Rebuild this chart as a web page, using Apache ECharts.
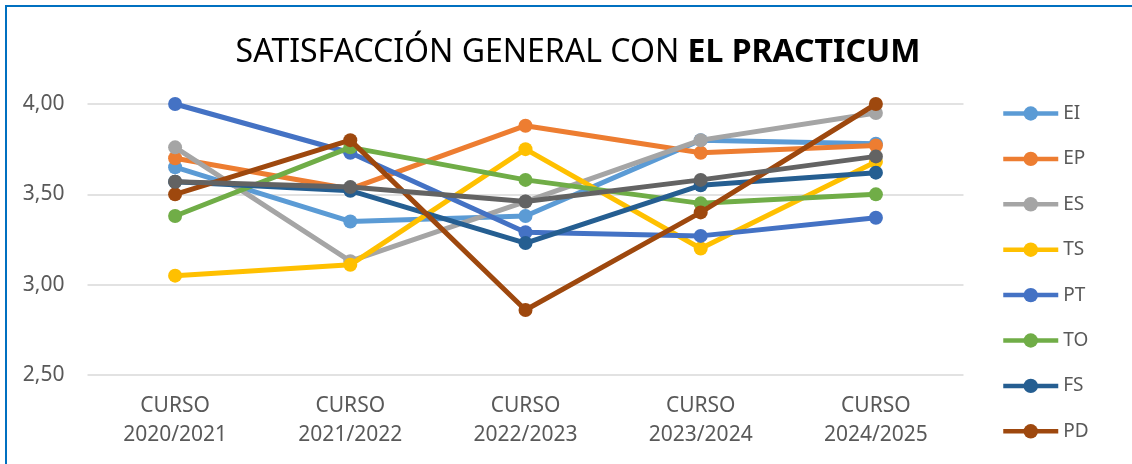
<!DOCTYPE html>
<html>
<head>
<meta charset="utf-8">
<script src="https://cdn.jsdelivr.net/npm/echarts@6/dist/echarts.min.js"></script>
<style>
  html, body { margin: 0; padding: 0; background: #fff; }
  #chart { width: 1132px; height: 464px; }
</style>
</head>
<body>
<div id="chart"></div>
<script>
// categorías (cursos)
var cursos = ['CURSO\n2020/2021', 'CURSO\n2021/2022', 'CURSO\n2022/2023', 'CURSO\n2023/2024', 'CURSO\n2024/2025'];

// valores por titulación
var EI = [3.65, 3.35, 3.38, 3.80, 3.78];
var EP = [3.70, 3.53, 3.88, 3.73, 3.77];
var ES = [3.76, 3.13, 3.46, 3.80, 3.95];
var TS = [3.05, 3.11, 3.75, 3.20, 3.68];
var PT = [4.00, 3.73, 3.29, 3.27, 3.37];
var TO = [3.38, 3.76, 3.58, 3.45, 3.50];
var FS = [3.57, 3.52, 3.23, 3.55, 3.62];
var PD = [3.50, 3.80, 2.86, 3.40, 4.00];
// serie gris oscura (no aparece en la leyenda)
var GENERAL = [3.57, 3.54, 3.46, 3.58, 3.71];

var nombres = ['EI', 'EP', 'ES', 'TS', 'PT', 'TO', 'FS', 'PD', 'GENERAL'];
var valores = [EI, EP, ES, TS, PT, TO, FS, PD, GENERAL];
var colores = ['#5B9BD5', '#ED7D31', '#A5A5A5', '#FFC000', '#4472C4', '#70AD47', '#255E91', '#9E480E', '#636363'];

var fuente = "'Noto Sans', sans-serif";

var chart = echarts.init(document.getElementById('chart'));

var series = nombres.map(function (n, i) {
  return {
    name: n,
    type: 'line',
    data: valores[i],
    symbol: 'circle',
    symbolSize: 14,
    color: colores[i],
    lineStyle: { width: 5, color: colores[i] },
    itemStyle: { color: colores[i] },
    z: 2 + i
  };
});

var option = {
  animation: false,
  textStyle: { fontFamily: fuente },
  //título
  title: {
    text: '{a|SATISFACCIÓN GENERAL CON }{b|EL PRACTICUM}',
    left: 573,
    textAlign: 'center',
    top: 32,
    textStyle: {
      rich: {
        a: { fontSize: 32, color: '#000', fontFamily: fuente, fontWeight: 'normal' },
        b: { fontSize: 32, color: '#000', fontFamily: fuente, fontWeight: 'bold' }
      }
    }
  },
  //leyenda vertical a la derecha
  legend: {
    orient: 'vertical',
    left: 1001,
    top: 104,
    padding: 0,
    itemWidth: 55,
    itemHeight: 18,
    itemGap: 26.4,
    data: nombres.slice(0, 8),
    lineStyle: { width: 4.5 },
    textStyle: { fontSize: 19, color: '#595959', lineHeight: 18, fontFamily: fuente }
  },
  grid: {
    left: 87.5,
    right: 168.5,
    top: 104,
    bottom: 89
  },
  xAxis: {
    type: 'category',
    data: cursos,
    boundaryGap: true,
    axisLine: { show: false },
    axisTick: { show: false },
    axisLabel: {
      color: '#595959',
      fontSize: 21,
      lineHeight: 29,
      margin: 17,
      fontFamily: fuente
    }
  },
  yAxis: {
    type: 'value',
    min: 2.5,
    max: 4.0,
    interval: 0.5,
    axisLine: { show: false },
    axisTick: { show: false },
    splitLine: { lineStyle: { color: '#D9D9D9', width: 1.5 } },
    axisLabel: {
      color: '#595959',
      fontSize: 21,
      margin: 23,
      fontFamily: fuente,
      formatter: function (v) { return v.toFixed(2).replace('.', ','); }
    }
  },
  //borde azul del gráfico
  graphic: [{
    type: 'polyline',
    shape: { points: [[6, 470], [6, 6], [1140, 6]] },
    style: { stroke: '#0070C0', lineWidth: 2, fill: null },
    silent: true
  }],
  series: series
};

chart.setOption(option);
</script>
</body>
</html>
